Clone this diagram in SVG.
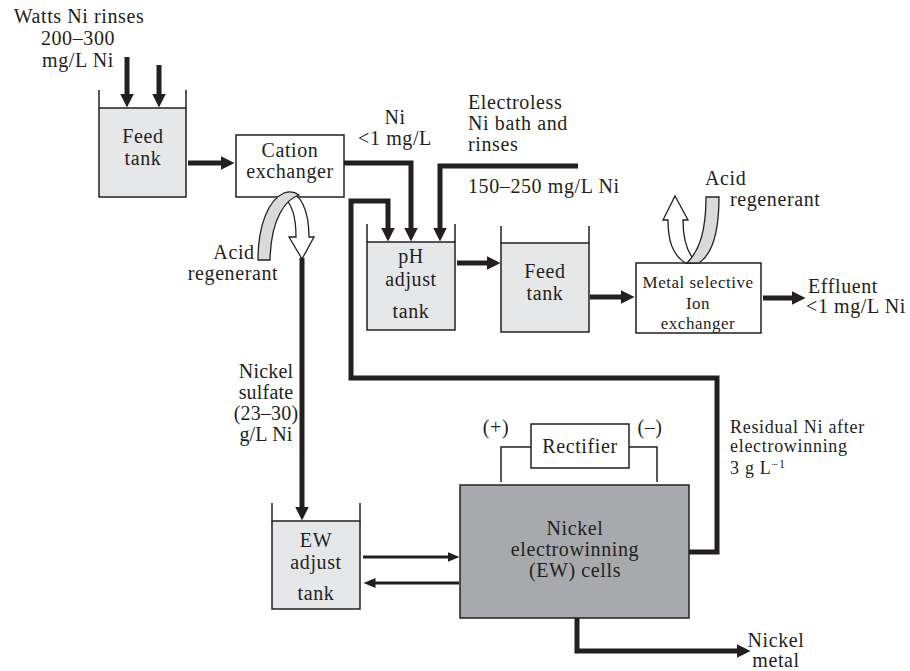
<svg xmlns="http://www.w3.org/2000/svg" width="910" height="671" viewBox="0 0 910 671">
<style>
.t{font-family:"Liberation Serif","Times New Roman",serif;font-size:20px;fill:#231f20;letter-spacing:0.6px}
.s{font-size:17px;letter-spacing:0.5px}
.r{font-size:18px;letter-spacing:0.7px}
.n{letter-spacing:0.2px}
.m{text-anchor:middle}
.box{fill:#fff;stroke:#231f20;stroke-width:1.5}
.liq{fill:#e6e7e8;stroke:#231f20;stroke-width:1.5}
.wall{fill:none;stroke:#231f20;stroke-width:1.5}
.ew{fill:#a7a9ac;stroke:#231f20;stroke-width:1.5}
.thick{fill:none;stroke:#231f20;stroke-width:5;stroke-linejoin:miter}
.thin{fill:none;stroke:#231f20;stroke-width:3}
.wire{fill:none;stroke:#231f20;stroke-width:1.5}
.white{fill:#fff;stroke:#231f20;stroke-width:1.3;stroke-linejoin:miter}
.gray{fill:#d9dadb;stroke:#231f20;stroke-width:1.3}
</style>
<defs>
<marker id="ah" markerUnits="userSpaceOnUse" markerWidth="15" markerHeight="15" refX="0.5" refY="7" orient="auto">
<path d="M0,0 L14,7 L0,14 Z" fill="#231f20"/>
</marker>
<marker id="ahs" markerUnits="userSpaceOnUse" markerWidth="13" markerHeight="11" refX="0.5" refY="5" orient="auto">
<path d="M0,0 L12,5 L0,10 Z" fill="#231f20"/>
</marker>
</defs>
<rect width="910" height="671" fill="#fff"/>

<g id="labels">
<text class="t m" x="79" y="23">Watts Ni rinses</text>
<text class="t m" x="78" y="45">200–300</text>
<text class="t m" x="78" y="67">mg/L Ni</text>
<text class="t m" x="395" y="124">Ni</text>
<text class="t m" x="395" y="145">&lt;1 mg/L</text>
<text class="t" x="468" y="109">Electroless</text>
<text class="t" x="468" y="130">Ni bath and</text>
<text class="t" x="468" y="151">rinses</text>
<text class="t" x="468" y="193">150–250 mg/L Ni</text>
<text class="t m" x="234" y="259">Acid</text>
<text class="t m" x="233" y="280">regenerant</text>
<text class="t" x="705" y="185">Acid</text>
<text class="t" x="730" y="206">regenerant</text>
<text class="t" x="808" y="293">Effluent</text>
<text class="t" x="806" y="313">&lt;1 mg/L Ni</text>
<text class="t n m" x="266" y="378">Nickel</text>
<text class="t n m" x="266" y="399">sulfate</text>
<text class="t n m" x="266" y="420">(23–30)</text>
<text class="t n m" x="266" y="441">g/L Ni</text>
<text class="t r" x="730" y="433">Residual Ni after</text>
<text class="t r" x="730" y="452">electrowinning</text>
<text class="t r" x="730" y="474">3 g L<tspan font-size="12" dy="-6">−1</tspan></text>
<text class="t m" x="776" y="647">Nickel</text>
<text class="t m" x="776" y="667">metal</text>
<text class="t m" x="496" y="434">(+)</text>
<text class="t m" x="650" y="434">(–)</text>
</g>

<g id="feed-tank-1">
<rect class="liq" x="99" y="108" width="87" height="89"/>
<path class="wall" d="M99,90 V108 M186,90 V108"/>
<text class="t m" x="143" y="143">Feed</text>
<text class="t m" x="143" y="165">tank</text>
</g>

<g id="cation-exchanger">
<rect class="box" x="236" y="135" width="108" height="62"/>
<text class="t m" x="290" y="157">Cation</text>
<text class="t m" x="290" y="178">exchanger</text>
</g>

<g id="ph-adjust-tank">
<rect class="liq" x="367" y="242" width="88" height="88"/>
<path class="wall" d="M367,224 V242 M455,224 V242"/>
<text class="t m" x="411" y="263">pH</text>
<text class="t m" x="411" y="286">adjust</text>
<text class="t m" x="411" y="318">tank</text>
</g>

<g id="feed-tank-2">
<rect class="liq" x="501" y="243" width="88" height="89"/>
<path class="wall" d="M501,226 V243 M589,226 V243"/>
<text class="t m" x="545" y="278">Feed</text>
<text class="t m" x="545" y="300">tank</text>
</g>

<g id="metal-selective-ix">
<rect class="box" x="636" y="263" width="125" height="70"/>
<text class="t s m" x="698" y="288">Metal selective</text>
<text class="t s m" x="698" y="309">Ion</text>
<text class="t s m" x="698" y="329">exchanger</text>
</g>

<g id="ew-adjust-tank">
<rect class="liq" x="272" y="521" width="88" height="88"/>
<path class="wall" d="M272,503 V521 M360,503 V521"/>
<text class="t m" x="316" y="547">EW</text>
<text class="t m" x="316" y="569">adjust</text>
<text class="t m" x="316" y="600">tank</text>
</g>

<g id="ew-cells">
<rect class="ew" x="460" y="485" width="229" height="133"/>
<text class="t m" x="575" y="535">Nickel</text>
<text class="t m" x="575" y="556">electrowinning</text>
<text class="t m" x="575" y="577">(EW) cells</text>
</g>

<g id="rectifier">
<rect class="box" x="531" y="424" width="98" height="44"/>
<text class="t m" x="580" y="453">Rectifier</text>
<path class="wire" d="M531,447 H501 V482 M629,447 H657 V482"/>
</g>

<g id="connectors">
<path class="thick" d="M127,57 V94" marker-end="url(#ah)"/>
<path class="thick" d="M159,65 V94" marker-end="url(#ah)"/>
<path class="thick" d="M188,163 H221" marker-end="url(#ah)"/>
<path class="thick" d="M344,163 H411 V228" marker-end="url(#ah)"/>
<path class="thick" d="M578,166 H440 V228" marker-end="url(#ah)"/>
<path class="thick" d="M689,552 H717 V378 H351 V201 H388 V228" marker-end="url(#ah)"/>
<path class="thick" d="M457,263 H487" marker-end="url(#ah)"/>
<path class="thick" d="M590,297 H621" marker-end="url(#ah)"/>
<path class="thick" d="M763,298 H792" marker-end="url(#ah)"/>
<path class="thick" d="M302,258 V507" marker-end="url(#ah)"/>
<path class="thick" d="M577,618 V651 H737" marker-end="url(#ah)"/>
<path class="thin" d="M363,557 H448" marker-end="url(#ahs)"/>
<path class="thin" d="M459,583 H375" marker-end="url(#ahs)"/>
</g>

<g id="cation-regen-loop">
<path class="white" d="M285,193 C301,190 309,212 309,237 L314,237 L302,259 L289,237 L296,237 C296,215 292,203 283,197 Z"/>
<path class="gray" d="M258,260 C258,226 268,200 284,193 C290,191 295,192 299,195 C287,199 271,216 270,260 Z"/>
</g>

<g id="metal-regen-loop">
<path class="white" d="M685,263 C672,254 668,240 668,220 L663,220 L675,196 L688,220 L683,220 C683,240 687,253 696,262 Z"/>
<path class="gray" d="M687,263 C700,250 706,230 706,197 L719,197 C719,235 711,255 699,263 Z"/>
</g>
</svg>
